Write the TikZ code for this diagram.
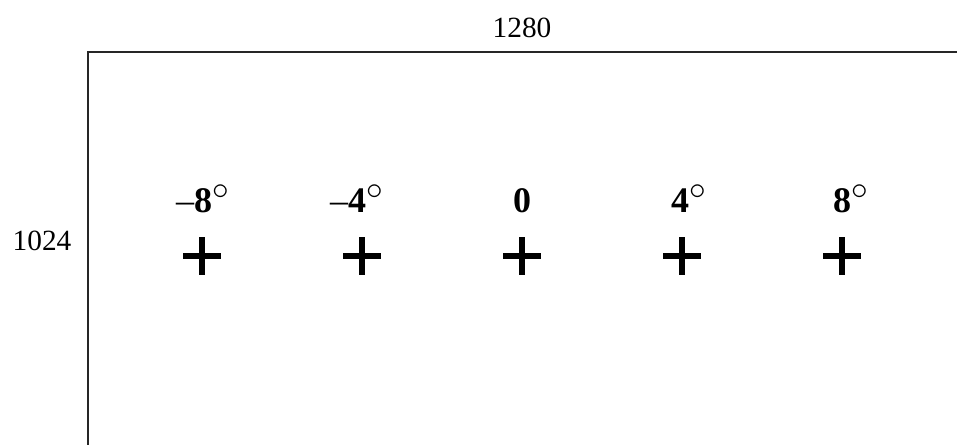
\documentclass[tikz,border=0pt]{standalone}
\usepackage{fontspec}
\setmainfont{Liberation Serif}
\newcommand{\degmark}{\rlap{\fontsize{34}{36}\selectfont$^\circ$}}
\begin{document}
\begin{tikzpicture}[x=0.75pt,y=-0.75pt,
  dimlabel/.style={font=\fontsize{22}{24}\selectfont, inner sep=0pt},
  anglelabel/.style={font=\fontsize{27}{29}\selectfont\bfseries, inner sep=0pt, anchor=base},
  crossmark/.style={line width=3.8pt},
  frameline/.style={line width=1.6pt, draw=black!85}]
\useasboundingbox (0,0) rectangle (957,444);
\begin{scope}
\clip (0,0) rectangle (957,444);
\coordinate (fbl) at (88,450);
\coordinate (ftl) at (88,52);
\coordinate (ftr) at (965,52);
\draw[frameline] (fbl) -- (ftl) -- (ftr);
\end{scope}
\node[dimlabel] (w) at (522,28) {1280};
\node[dimlabel] (h) at (42,241) {1024};
\foreach \i/\x/\t in {1/203/{\llap{\mdseries\char"2013}8\degmark},
                      2/357/{\llap{\mdseries\char"2013}4\degmark},
                      3/522/{0},
                      4/680/{4\degmark},
                      5/842/{8\degmark}}{
  \node[anglelabel] (l\i) at (\x,212) {\t};
}
\foreach \i/\x in {1/202,2/362,3/522,4/682,5/842}{
  \coordinate (k\i) at (\x,256);
  \draw[crossmark] ([xshift=-19*0.75pt]k\i) -- ([xshift=19*0.75pt]k\i);
  \draw[crossmark] ([yshift=19*0.75pt]k\i) -- ([yshift=-19*0.75pt]k\i);
}
\end{tikzpicture}
\end{document}
